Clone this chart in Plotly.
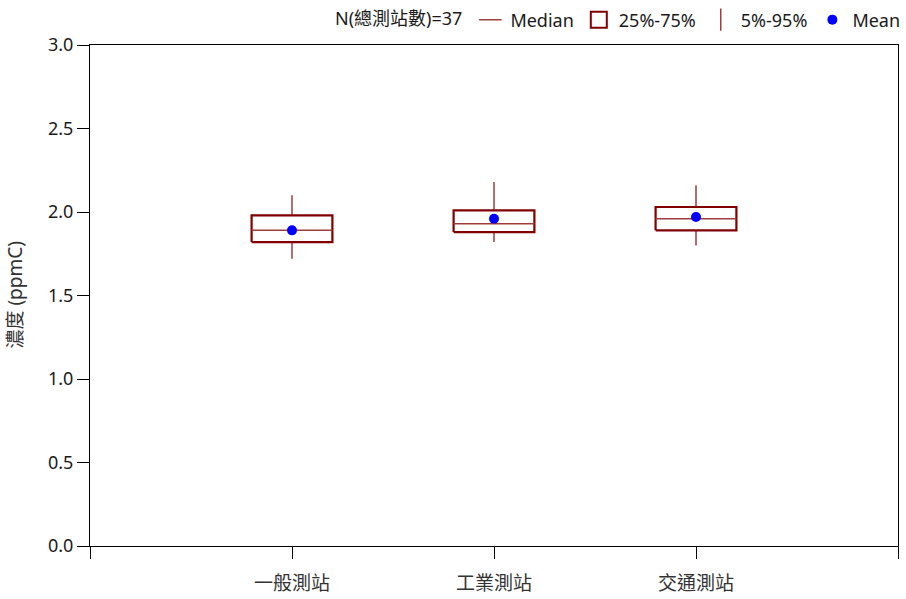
import plotly.graph_objects as go

categories = ["一般測站", "工業測站", "交通測站"]
positions = [1, 2, 3]
q1 = [1.82, 1.88, 1.89]
median = [1.89, 1.93, 1.96]
q3 = [1.98, 2.01, 2.03]
p5 = [1.72, 1.82, 1.80]
p95 = [2.10, 2.18, 2.16]
mean = [1.89, 1.96, 1.97]
n_sites = 37
box_width = 0.4

BOX_C = "#800000"
WHISK_C = "#a03c3c"
MEAN_C = "#0000ff"
FONT = "Noto Sans, Noto Sans CJK TC, sans-serif"

fig = go.Figure()

# whiskers (5%-95%), vertical segments without caps
wx, wy = [], []
for p, lo, a, b, hi in zip(positions, p5, q1, q3, p95):
    wx += [p, p, None, p, p, None]
    wy += [lo, a, None, b, hi, None]
fig.add_trace(go.Scatter(x=wx, y=wy, mode="lines", line=dict(color=WHISK_C, width=1.5),
                         showlegend=False, hoverinfo="skip"))

# boxes (25%-75%)
for p, a, b in zip(positions, q1, q3):
    h = box_width / 2
    fig.add_trace(go.Scatter(x=[p - h, p + h, p + h, p - h, p - h], y=[a, a, b, b, a],
                             mode="lines", fill="toself", fillcolor="white",
                             line=dict(color=BOX_C, width=2.2), showlegend=False,
                             hoverinfo="skip"))

# medians
mx, my = [], []
for p, m in zip(positions, median):
    mx += [p - box_width / 2, p + box_width / 2, None]
    my += [m, m, None]
fig.add_trace(go.Scatter(x=mx, y=my, mode="lines", line=dict(color=WHISK_C, width=1.5),
                         showlegend=False, hoverinfo="skip"))

# mean points
fig.add_trace(go.Scatter(x=positions, y=mean, mode="markers",
                         marker=dict(color=MEAN_C, size=10), showlegend=False))

# legend entries
fig.add_trace(go.Scatter(x=[None], y=[None], mode="markers", name="Median",
                         marker=dict(symbol="line-ew", size=16, line=dict(color=WHISK_C, width=1.5))))
fig.add_trace(go.Scatter(x=[None], y=[None], mode="markers", name="25%-75%",
                         marker=dict(symbol="square-open", size=17, color=BOX_C, line=dict(width=2))))
fig.add_trace(go.Scatter(x=[None], y=[None], mode="markers", name="5%-95%",
                         marker=dict(symbol="line-ns", size=18, line=dict(color=WHISK_C, width=1.5))))
fig.add_trace(go.Scatter(x=[None], y=[None], mode="markers", name="Mean",
                         marker=dict(color=MEAN_C, size=10)))

fig.update_layout(
    width=906, height=599,
    margin=dict(l=90, r=8, t=45, b=53, autoexpand=False),
    paper_bgcolor="white", plot_bgcolor="white",
    font=dict(family=FONT, size=18, color="#1a1a1a"),
    legend=dict(orientation="h", xref="container", x=1.0, xanchor="right",
                yref="paper", y=1.05, yanchor="middle",
                title=dict(text=f"N(總測站數)={n_sites}", side="left", font=dict(size=18)),
                font=dict(size=18), bgcolor="rgba(0,0,0,0)", tracegroupgap=0),
    xaxis=dict(range=[0, 4], tickvals=[0, 1, 2, 3, 4], ticktext=[""] + categories + [""],
               showgrid=False, zeroline=False, showline=True, linecolor="black", linewidth=1,
               mirror=True, ticks="outside", ticklen=12, tickcolor="black",
               tickfont=dict(family="Noto Sans CJK TC, sans-serif", size=19, color="#333333"),
               ticklabelstandoff=8, automargin=False),
    yaxis=dict(range=[0, 3], tickvals=[0, 0.5, 1, 1.5, 2, 2.5, 3], tickformat=".1f",
               showgrid=False, zeroline=False, showline=True, linecolor="black", linewidth=1,
               mirror=True, ticks="outside", ticklen=12, tickcolor="black",
               tickfont=dict(size=18), automargin=False),
    annotations=[dict(text="濃度 (ppmC)", textangle=-90, xref="paper", yref="paper",
                      x=-0.094, y=0.5, xanchor="center", yanchor="middle", showarrow=False,
                      font=dict(size=19, color="#333333"))],
)

fig.write_html("out.html", config={"displayModeBar": False},
               post_script="document.body.style.margin='0';")
